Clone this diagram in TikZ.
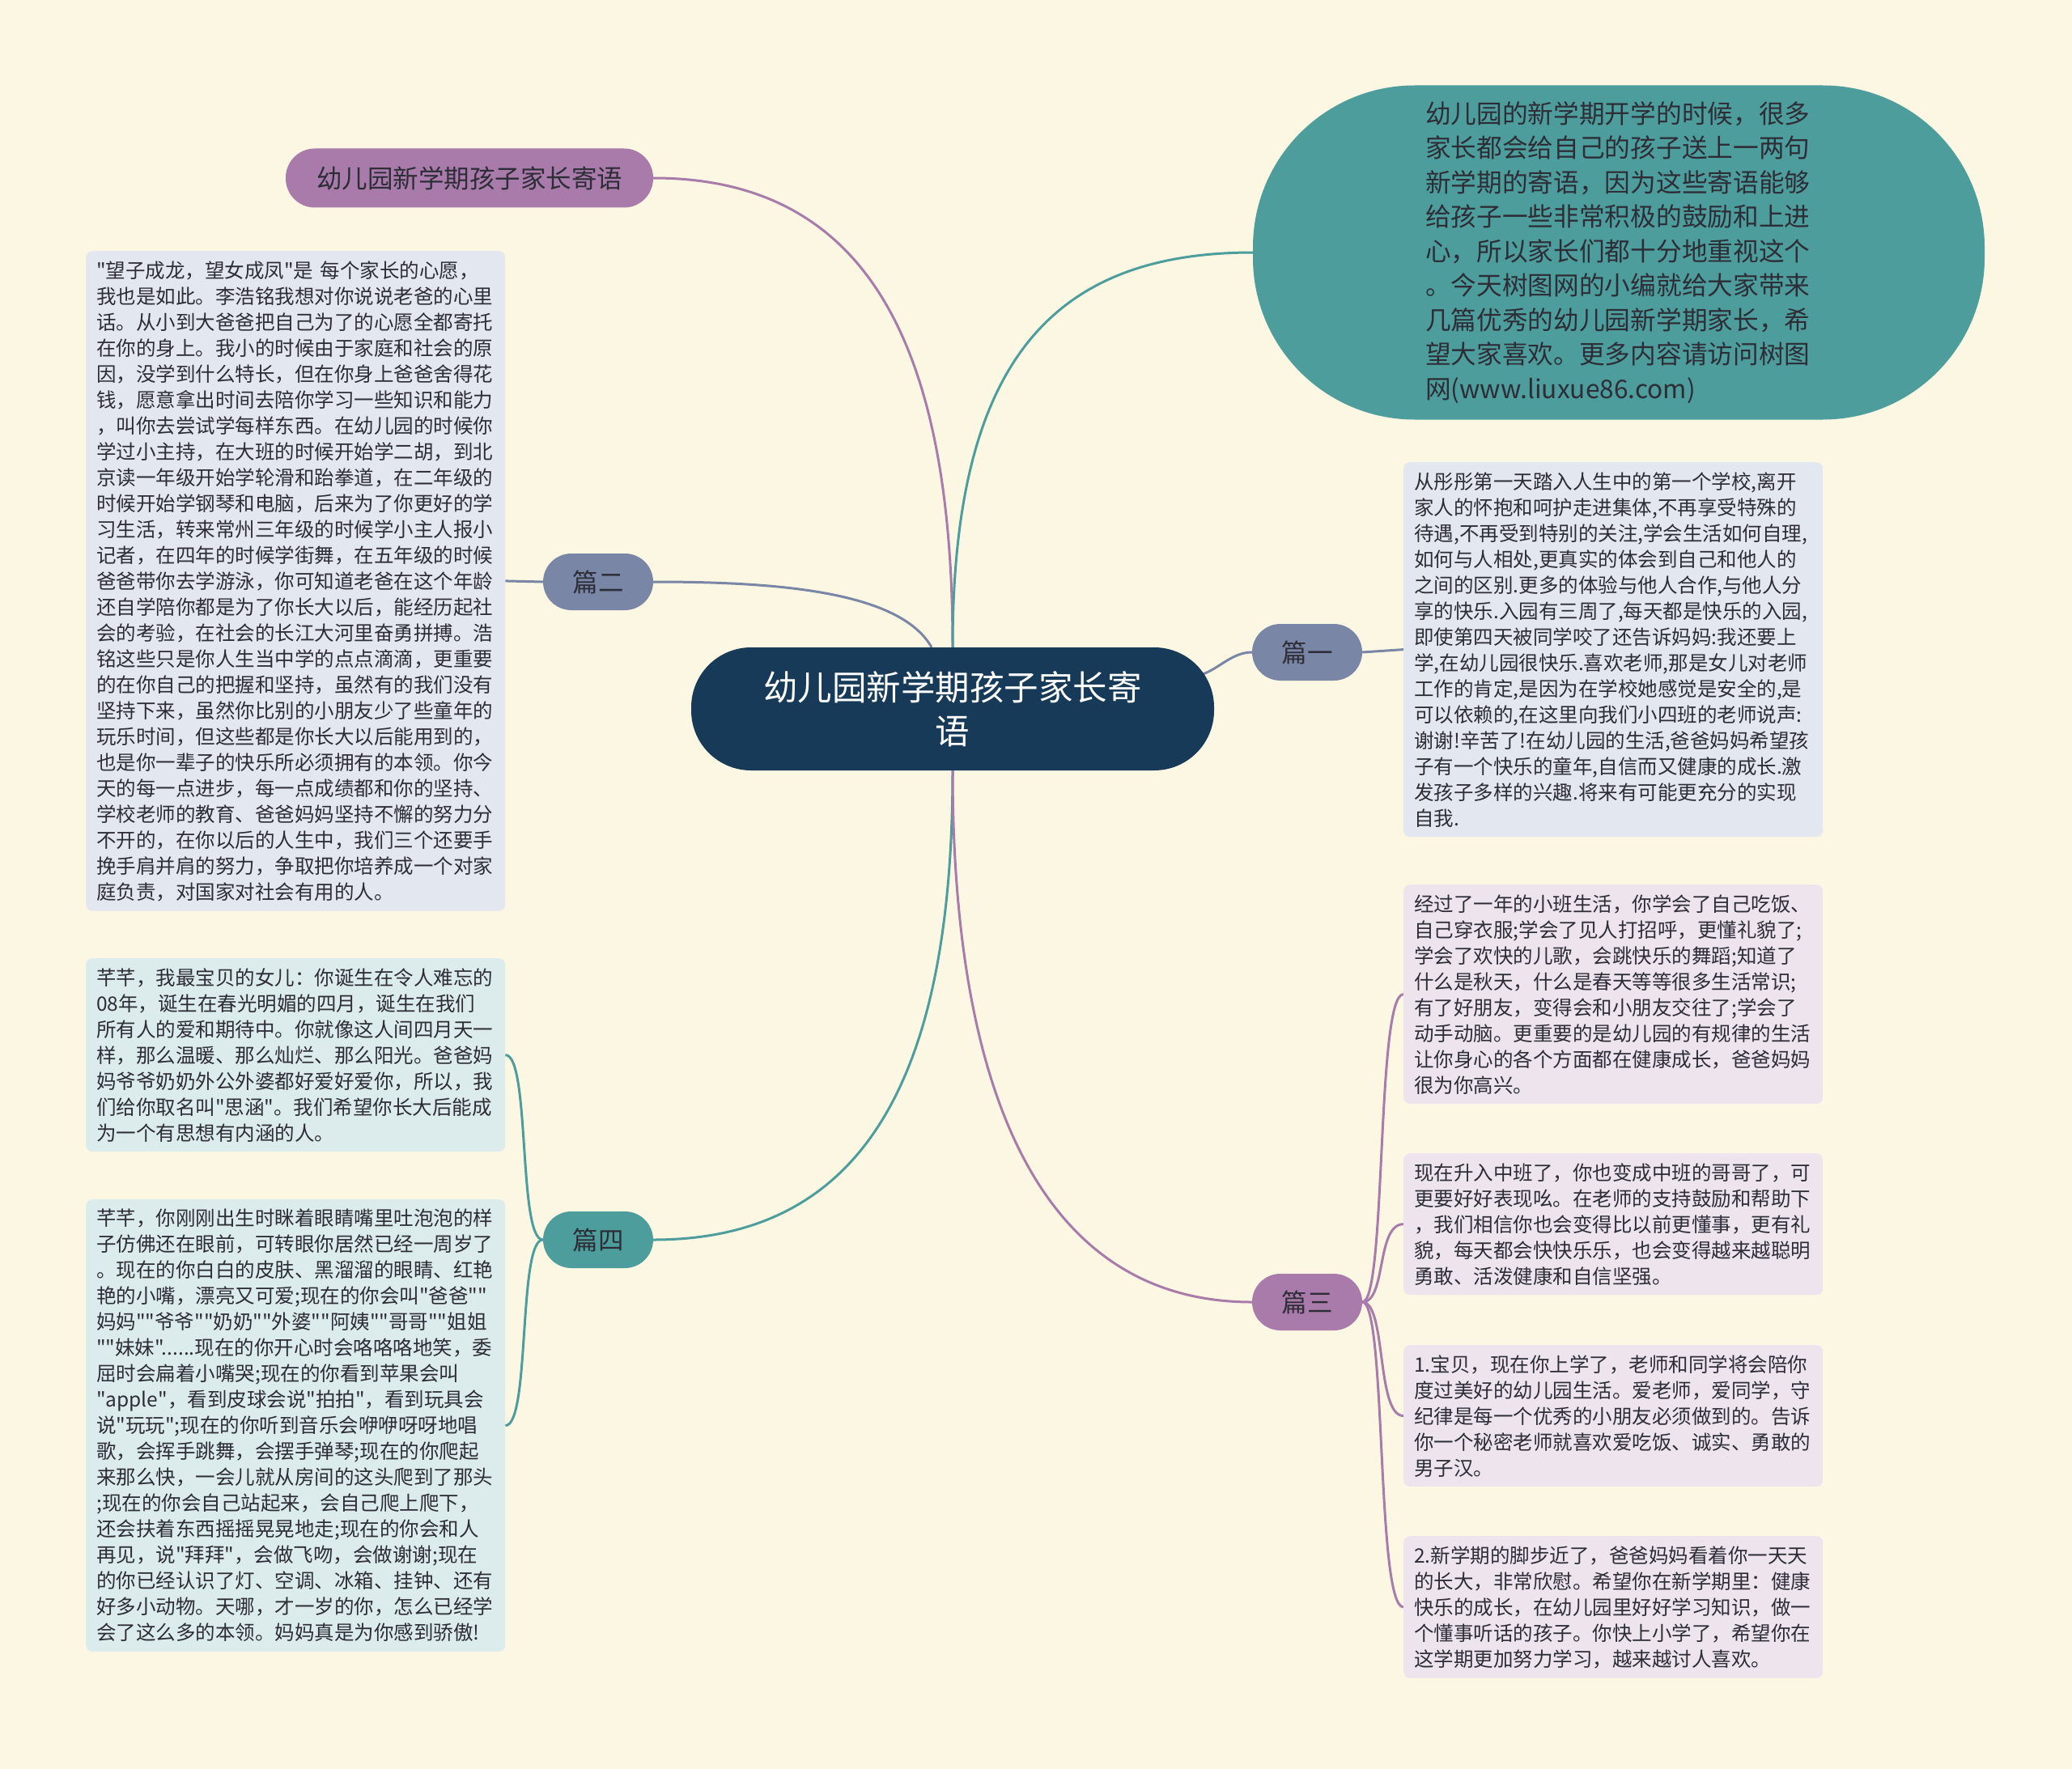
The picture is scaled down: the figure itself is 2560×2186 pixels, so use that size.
\documentclass[tikz,border=0pt]{standalone}
\usepackage{fontspec}
\setmainfont{Noto Sans CJK SC}
\newfontfamily\cjkfont{Noto Sans CJK SC}
\usetikzlibrary{calc}

\definecolor{bgcream}{RGB}{251,247,227}
\definecolor{navymain}{RGB}{22,58,88}
\definecolor{tealmain}{RGB}{78,157,157}
\definecolor{purplemain}{RGB}{168,123,170}
\definecolor{slatemain}{RGB}{122,134,166}
\definecolor{boxgrey}{RGB}{227,231,239}
\definecolor{boxteal}{RGB}{220,235,235}
\definecolor{boxpurple}{RGB}{237,228,238}
\definecolor{textdark}{RGB}{45,45,55}

\pgfdeclarelayer{background}
\pgfsetlayers{background,main}

\tikzset{
  pianbox/.style={fill=#1, rounded corners=35pt, minimum width=136pt,
    minimum height=70pt, inner sep=0pt, text=textdark,
    font=\cjkfont\fontsize{31.5}{38}\selectfont},
  textbox/.style={fill=#1, rounded corners=8pt, anchor=north west,
    text width=492pt, inner xsep=13pt, inner ysep=12pt, align=left,
    text=textdark, font=\cjkfont\fontsize{24.5}{32}\selectfont},
  link/.style={draw=#1, line width=3pt},
}

\begin{document}
\begin{tikzpicture}

  %--------------------------------------------
  % 坐标单位: 1pt = 参考图 1 像素, y 轴向下
  %--------------------------------------------
  \begin{scope}[x=1pt, y=-1pt]

    \useasboundingbox (0,0) rectangle (2560,2186);

    %--------------------------------------------
    % 中心主题
    %--------------------------------------------
    \node[fill=navymain, text=white, rounded corners=74pt,
      minimum width=646pt, minimum height=152pt, align=center,
      font=\cjkfont\fontsize{42.5}{54}\selectfont] (root) at (1177,876)
      {幼儿园新学期孩子家长寄\\语};
    \coordinate (rootne) at (1470,836);

    %--------------------------------------------
    % 标题与导语
    %--------------------------------------------
    \node[fill=purplemain, rounded corners=36pt, minimum width=454pt,
      minimum height=73pt, text=textdark,
      font=\cjkfont\fontsize{31.5}{38}\selectfont] (title) at (580,220)
      {幼儿园新学期孩子家长寄语};

    \node[fill=tealmain, rounded corners=200pt, minimum width=904pt,
      minimum height=413pt, text width=478pt, align=left, text=textdark,
      font=\cjkfont\fontsize{31.7}{42.5}\selectfont] (intro) at (2000,312)
      {幼儿园的新学期开学的时候，很多\\
       家长都会给自己的孩子送上一两句\\
       新学期的寄语，因为这些寄语能够\\
       给孩子一些非常积极的鼓励和上进\\
       心，所以家长们都十分地重视这个\\
       。今天树图网的小编就给大家带来\\
       几篇优秀的幼儿园新学期家长，希\\
       望大家喜欢。更多内容请访问树图\\
       网(www.liuxue86.com)};

    %--------------------------------------------
    % 四个分支
    %--------------------------------------------
    \node[pianbox=slatemain] (pianer) at (739,719) {篇二};
    \node[pianbox=tealmain] (piansi) at (739,1532) {篇四};
    \node[pianbox=slatemain] (pianyi) at (1615,806) {篇一};
    \node[pianbox=purplemain] (piansan) at (1615,1609) {篇三};

    %--------------------------------------------
    % 篇二 正文
    %--------------------------------------------
    \node[textbox=boxgrey] (t2) at (106,310)
      {"望子成龙，望女成凤"是 每个家长的心愿，\\
       我也是如此。李浩铭我想对你说说老爸的心里\\
       话。从小到大爸爸把自己为了的心愿全都寄托\\
       在你的身上。我小的时候由于家庭和社会的原\\
       因，没学到什么特长，但在你身上爸爸舍得花\\
       钱，愿意拿出时间去陪你学习一些知识和能力\\
       ，叫你去尝试学每样东西。在幼儿园的时候你\\
       学过小主持，在大班的时候开始学二胡，到北\\
       京读一年级开始学轮滑和跆拳道，在二年级的\\
       时候开始学钢琴和电脑，后来为了你更好的学\\
       习生活，转来常州三年级的时候学小主人报小\\
       记者，在四年的时候学街舞，在五年级的时候\\
       爸爸带你去学游泳，你可知道老爸在这个年龄\\
       还自学陪你都是为了你长大以后，能经历起社\\
       会的考验，在社会的长江大河里奋勇拼搏。浩\\
       铭这些只是你人生当中学的点点滴滴，更重要\\
       的在你自己的把握和坚持，虽然有的我们没有\\
       坚持下来，虽然你比别的小朋友少了些童年的\\
       玩乐时间，但这些都是你长大以后能用到的，\\
       也是你一辈子的快乐所必须拥有的本领。你今\\
       天的每一点进步，每一点成绩都和你的坚持、\\
       学校老师的教育、爸爸妈妈坚持不懈的努力分\\
       不开的，在你以后的人生中，我们三个还要手\\
       挽手肩并肩的努力，争取把你培养成一个对家\\
       庭负责，对国家对社会有用的人。};

    %--------------------------------------------
    % 篇四 正文
    %--------------------------------------------
    \node[textbox=boxteal] (t4a) at (106,1184)
      {芊芊，我最宝贝的女儿：你诞生在令人难忘的\\
       08年，诞生在春光明媚的四月，诞生在我们\\
       所有人的爱和期待中。你就像这人间四月天一\\
       样，那么温暖、那么灿烂、那么阳光。爸爸妈\\
       妈爷爷奶奶外公外婆都好爱好爱你，所以，我\\
       们给你取名叫"思涵"。我们希望你长大后能成\\
       为一个有思想有内涵的人。};

    \node[textbox=boxteal] (t4b) at (106,1482)
      {芊芊，你刚刚出生时眯着眼睛嘴里吐泡泡的样\\
       子仿佛还在眼前，可转眼你居然已经一周岁了\\
       。现在的你白白的皮肤、黑溜溜的眼睛、红艳\\
       艳的小嘴，漂亮又可爱;现在的你会叫"爸爸""\\
       妈妈""爷爷""奶奶""外婆""阿姨""哥哥""姐姐\\
       ""妹妹"......现在的你开心时会咯咯咯地笑，委\\
       屈时会扁着小嘴哭;现在的你看到苹果会叫\\
       "apple"，看到皮球会说"拍拍"，看到玩具会\\
       说"玩玩";现在的你听到音乐会咿咿呀呀地唱\\
       歌，会挥手跳舞，会摆手弹琴;现在的你爬起\\
       来那么快，一会儿就从房间的这头爬到了那头\\
       ;现在的你会自己站起来，会自己爬上爬下，\\
       还会扶着东西摇摇晃晃地走;现在的你会和人\\
       再见，说"拜拜"，会做飞吻，会做谢谢;现在\\
       的你已经认识了灯、空调、冰箱、挂钟、还有\\
       好多小动物。天哪，才一岁的你，怎么已经学\\
       会了这么多的本领。妈妈真是为你感到骄傲!};

    %--------------------------------------------
    % 篇一 正文
    %--------------------------------------------
    \node[textbox=boxgrey] (t1) at (1734,571)
      {从彤彤第一天踏入人生中的第一个学校,离开\\
       家人的怀抱和呵护走进集体,不再享受特殊的\\
       待遇,不再受到特别的关注,学会生活如何自理,\\
       如何与人相处,更真实的体会到自己和他人的\\
       之间的区别.更多的体验与他人合作,与他人分\\
       享的快乐.入园有三周了,每天都是快乐的入园,\\
       即使第四天被同学咬了还告诉妈妈:我还要上\\
       学,在幼儿园很快乐.喜欢老师,那是女儿对老师\\
       工作的肯定,是因为在学校她感觉是安全的,是\\
       可以依赖的,在这里向我们小四班的老师说声:\\
       谢谢!辛苦了!在幼儿园的生活,爸爸妈妈希望孩\\
       子有一个快乐的童年,自信而又健康的成长.激\\
       发孩子多样的兴趣.将来有可能更充分的实现\\
       自我.};

    %--------------------------------------------
    % 篇三 正文 (四段)
    %--------------------------------------------
    \node[textbox=boxpurple] (t3a) at (1734,1093)
      {经过了一年的小班生活，你学会了自己吃饭、\\
       自己穿衣服;学会了见人打招呼，更懂礼貌了;\\
       学会了欢快的儿歌，会跳快乐的舞蹈;知道了\\
       什么是秋天，什么是春天等等很多生活常识;\\
       有了好朋友，变得会和小朋友交往了;学会了\\
       动手动脑。更重要的是幼儿园的有规律的生活\\
       让你身心的各个方面都在健康成长，爸爸妈妈\\
       很为你高兴。};

    \node[textbox=boxpurple] (t3b) at (1734,1425)
      {现在升入中班了，你也变成中班的哥哥了，可\\
       更要好好表现吆。在老师的支持鼓励和帮助下\\
       ，我们相信你也会变得比以前更懂事，更有礼\\
       貌，每天都会快快乐乐，也会变得越来越聪明\\
       勇敢、活泼健康和自信坚强。};

    \node[textbox=boxpurple] (t3c) at (1734,1662)
      {1.宝贝，现在你上学了，老师和同学将会陪你\\
       度过美好的幼儿园生活。爱老师，爱同学，守\\
       纪律是每一个优秀的小朋友必须做到的。告诉\\
       你一个秘密老师就喜欢爱吃饭、诚实、勇敢的\\
       男子汉。};

    \node[textbox=boxpurple] (t3d) at (1734,1898)
      {2.新学期的脚步近了，爸爸妈妈看着你一天天\\
       的长大，非常欣慰。希望你在新学期里：健康\\
       快乐的成长，在幼儿园里好好学习知识，做一\\
       个懂事听话的孩子。你快上小学了，希望你在\\
       这学期更加努力学习，越来越讨人喜欢。};

    %--------------------------------------------
    % 背景与连线 (放在节点下面)
    %--------------------------------------------
    \begin{pgfonlayer}{background}
      \fill[bgcream] (0,0) rectangle (2560,2186);

      % 中心到各分支
      \draw[link=purplemain] (root.north) .. controls +(0,-380) and +(260,0) .. (title.east);
      \draw[link=tealmain] (root.north) .. controls +(0,-350) and +(-250,0) .. (intro.west);
      \draw[link=slatemain] ([xshift=-26pt]root.north) .. controls +(-40,-70) and +(150,0) .. (pianer.east);
      \draw[link=slatemain] (rootne) .. controls +(30,0) and +(-30,0) .. (pianyi.west);
      \draw[link=tealmain] (root.south) .. controls +(0,380) and +(260,0) .. (piansi.east);
      \draw[link=purplemain] (root.south) .. controls +(0,400) and +(-260,0) .. (piansan.west);

      % 分支到正文
      \draw[link=slatemain] (pianer.west) -- (t2.east);
      \draw[link=slatemain] (pianyi.east) -- (t1.west);
      \foreach \kid in {t4a,t4b}
        \draw[link=tealmain] (piansi.west) .. controls +(-31,0) and +(31,0) .. (\kid.east);
      \foreach \kid in {t3a,t3b,t3c,t3d}
        \draw[link=purplemain] (piansan.east) .. controls +(30,0) and +(-34,0) .. (\kid.west);
    \end{pgfonlayer}

  \end{scope}

\end{tikzpicture}
\end{document}
